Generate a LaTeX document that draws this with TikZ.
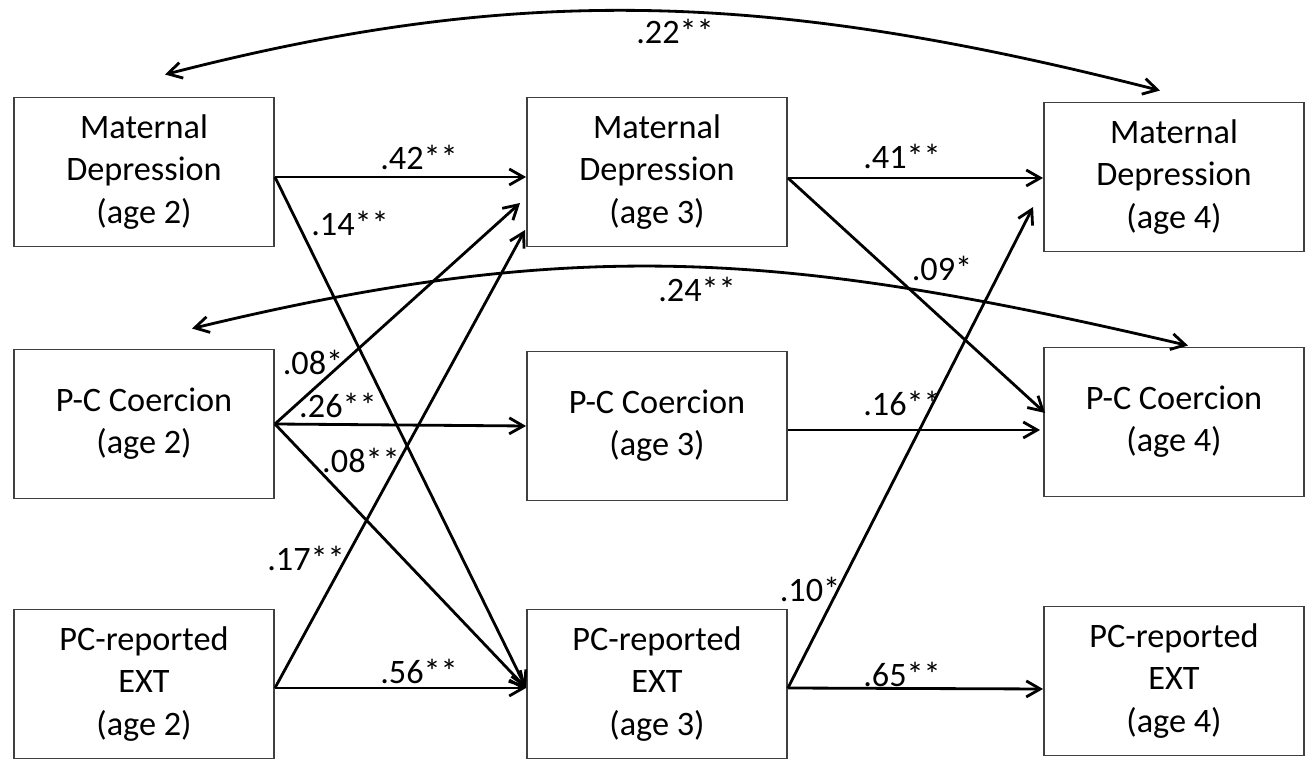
\documentclass[tikz,border=0pt]{standalone}
\usepackage{fontspec}
\setmainfont{Carlito}
\usetikzlibrary{arrows.meta,calc}

\tikzset{
  var/.style={draw=black!75, line width=1.1pt, minimum width=5.2cm, minimum height=2.98cm,
    align=center, inner sep=0pt, font=\fontsize{19.5}{24}\selectfont},
  wt/.style={inner sep=0pt, font=\fontsize{19.5}{24}\selectfont},
  reg/.style={-{Straight Barb[length=2.8mm,width=3.2mm]}, line width=1.6pt},
  cov/.style={{Straight Barb[length=2.8mm,width=3.2mm]}-{Straight Barb[length=2.8mm,width=3.2mm]}, line width=1.6pt}
}

\begin{document}
\begin{tikzpicture}[x=0.02cm,y=-0.02cm]
  \useasboundingbox (0,0) rectangle (1313,766);

  % age 2
  \node[var] at (144,172) (md2) {Maternal\\Depression\\(age 2)};
  \node[var] at (144,424) (pc2) {P-C Coercion\\(age 2)};
  \node[var] at (144,684) (ext2) {PC-reported\\EXT\\(age 2)};

  % age 3
  \node[var] at (657,172) (md3) {Maternal\\Depression\\(age 3)};
  \node[var] at (657,426) (pc3) {P-C Coercion\\(age 3)};
  \node[var] at (657,684) (ext3) {PC-reported\\EXT\\(age 3)};

  % age 4
  \node[var] at (1174,177) (md4) {Maternal\\Depression\\(age 4)};
  \node[var] at (1174,422) (pc4) {P-C Coercion\\(age 4)};
  \node[var] at (1174,681) (ext4) {PC-reported\\EXT\\(age 4)};

  % paths age 2 -> age 3
  \draw[reg] ($(md2.east)+(0,5)$) -- ($(md3.west)+(0,5)$);
  \draw[reg] ($(md2.east)+(0,5)$) -- ($(ext3.west)+(0,4)$);
  \draw[reg] (pc2.east) -- ($(md3.west)+(-6,31)$);
  \draw[reg] (pc2.east) -- (pc3.west);
  \draw[reg] (pc2.east) -- ($(ext3.west)+(0,4)$);
  \draw[reg] ($(ext2.east)+(0,4)$) -- ($(md3.west)+(-1,58)$);
  \draw[reg] ($(ext2.east)+(0,4)$) -- ($(ext3.west)+(0,4)$);

  % paths age 3 -> age 4
  \draw[reg] ($(md3.east)+(0,6)$) -- ($(md4.west)+(0,1)$);
  \draw[reg] ($(md3.east)+(0,6)$) -- ($(pc4.west)+(2,-9)$);
  \draw[reg] ($(pc3.east)+(0,4)$) -- ($(pc4.west)+(-3,8)$);
  \draw[reg] ($(ext3.east)+(0,4)$) -- ($(md4.west)+(-10,30)$);
  \draw[reg] ($(ext3.east)+(0,4)$) -- ($(ext4.west)+(0,8)$);

  % stability over two years
  \draw[cov] ($(md2.north)+(21,-22)$) .. controls (520,-17) and (770,-9) .. ($(md4.north)+(-14,-11)$);
  \draw[cov] ($(pc2.north)+(48,-20)$) .. controls (580,235) and (788,252) .. ($(pc4.north)+(14,-1)$);

  % weights
  \node[wt] at (675,31) (w22) {.22**};
  \node[wt] at (697,289) (w24) {.24**};
  \node[wt] at (419,157) (w42) {.42**};
  \node[wt] at (350,223) (w14) {.14**};
  \node[wt] at (313,362) (w08a) {.08*};
  \node[wt] at (338,405) (w26) {.26**};
  \node[wt] at (361,460) (w08b) {.08**};
  \node[wt] at (306,558) (w17) {.17**};
  \node[wt] at (419,671) (w56) {.56**};
  \node[wt] at (902,156) (w41) {.41**};
  \node[wt] at (942,268) (w09) {.09*};
  \node[wt] at (902,403) (w16) {.16**};
  \node[wt] at (810,589) (w10) {.10*};
  \node[wt] at (902,674) (w65) {.65**};
\end{tikzpicture}
\end{document}
